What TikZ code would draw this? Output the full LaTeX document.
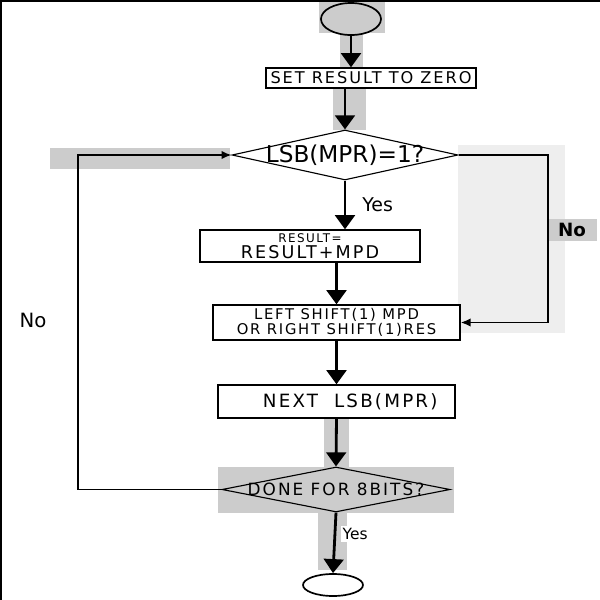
\documentclass[tikz,border=0pt]{standalone}
\usepackage{fontspec}
\setmainfont{DejaVu Sans}
\definecolor{hlgray}{RGB}{204,204,204}
\definecolor{palegray}{RGB}{238,238,238}
\usetikzlibrary{arrows.meta,shapes.geometric}
\newcommand{\wide}[1]{\fontsize{#1}{#1}\selectfont\addfontfeature{LetterSpace=12}}

\begin{document}
\begin{tikzpicture}[x=0.25mm,y=-0.25mm,
  fbox/.style={draw,line width=1pt,fill=white,inner sep=0pt,align=center},
  decision/.style={draw,diamond,line width=0.8pt,inner sep=0pt},
  term/.style={draw,ellipse,line width=1.2pt,inner sep=0pt},
  flow/.style={line width=2pt,-{Triangle[width=14pt,length=10pt]}},
  loopback/.style={line width=1.2pt,-{Latex[length=7pt,width=6pt]}},
  hl/.style={fill=hlgray}
]
  \useasboundingbox (0,0) rectangle (600,600);
  % frame edges
  \draw[line width=1.5pt] (0,1) -- (600,1);
  \draw[line width=1.5pt] (1,0) -- (1,600);
  % gray patches
  \fill[palegray] (458,145) rectangle (565,333);
  \fill[hl] (319,2) rectangle (385,33);
  \fill[hl] (340,33) rectangle (363,68);
  \fill[hl] (333,88) rectangle (366,130);
  \fill[hl] (50,148) rectangle (230,169);
  \fill[hl] (324,418) rectangle (349,467);
  \fill[hl] (218,467) rectangle (454,513);
  \fill[hl] (318,513) rectangle (347,570);

  % steps
  \node[term,hl,minimum width=1.5cm,minimum height=0.8cm] (start) at (351,19) {};
  \node[fbox,minimum width=5.25cm,minimum height=0.5cm,font=\wide{11.5}] (zero) at (371,78) {SET RESULT TO ZERO};
  \node[decision,fill=white,minimum width=5.65cm,minimum height=1.25cm] (lsb) at (345,155) {};
  \node[font=\fontsize{16.5}{18}\selectfont] (lsbtxt) at (lsb) {LSB(MPR)=1?};
  \node[fbox,minimum width=5.5cm,minimum height=0.8cm] (add) at (310,246)
    {{\wide{8.5}RESULT=}\\[-1pt]{\wide{12.5}RESULT+MPD}};
  \node[fbox,minimum width=6.175cm,minimum height=0.875cm,font=\wide{10.5}] (shift) at (336.5,322.5)
    {LEFT SHIFT(1) MPD\\OR RIGHT SHIFT(1)RES};
  \node[fbox,minimum width=5.925cm,minimum height=0.825cm,font=\wide{13}] (next) at (336.5,401.5) {\hspace{1.5em}NEXT\ \ LSB(MPR)};
  \node[decision,hl,minimum width=5.7cm,minimum height=1.125cm] (done) at (336,489.5) {};
  \node[font=\wide{12}] (donetxt) at (done) {DONE FOR 8BITS?};
  \node[term,minimum width=1.5cm,minimum height=0.55cm] (stop) at (333,585) {};

  % labels
  \node[hl,font=\fontsize{13}{14}\selectfont\bfseries,minimum width=1.25cm,minimum height=0.45cm] (noright) at (572,230) {No};
  \node[font=\fontsize{14}{16}\selectfont] (noleft) at (33,320) {No};
  \coordinate (rside) at (548,240);
  \coordinate (lside) at (78,320);

  % connectors
  \draw[flow] (start.south) -- (start.south |- zero.north);
  \draw[flow] (lsb.north |- zero.south) -- (lsb.north);
  \draw[flow] (lsb.south) -- (lsb.south |- add.north)
    node[midway,right=8pt,font=\fontsize{13.5}{14}\selectfont] (yes1) {Yes};
  \draw[flow] (shift.north |- add.south) -- (shift.north);
  \draw[flow] (shift.south) -- (next.north);
  \draw[flow] (next.south) -- (done.north);
  \draw[flow] (done.south) -- (stop.north)
    node[pos=0.35,right=3pt,fill=white,inner sep=1.5pt,font=\fontsize{11}{12}\selectfont] (yes2) {Yes};
  \draw[loopback] (lsb.east) -| (rside) |- (shift.east);
  \draw[loopback] (done.west) -| (lside) |- (lsb.west);
\end{tikzpicture}
\end{document}
